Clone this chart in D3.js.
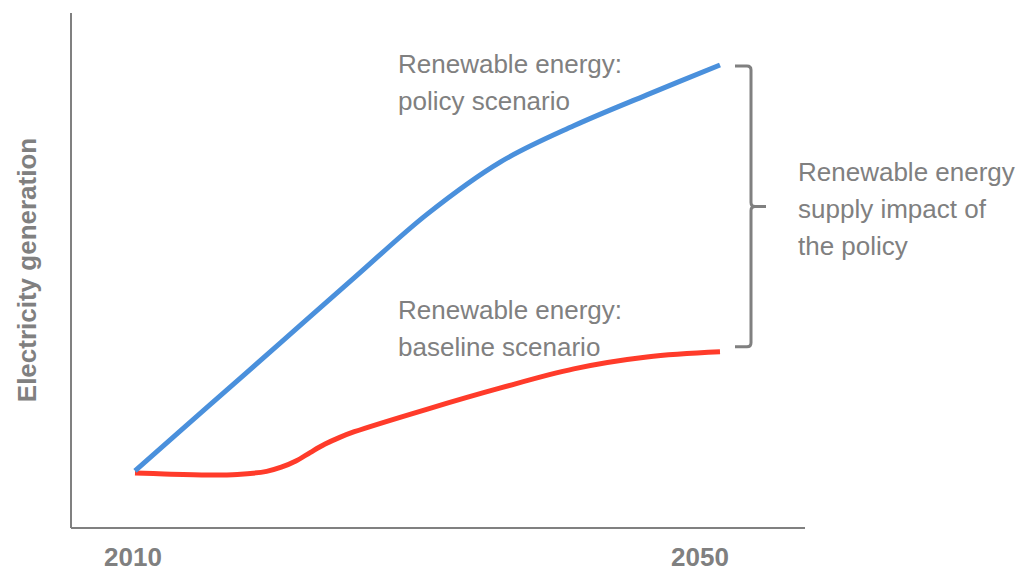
<!DOCTYPE html>
<html>
<head>
<meta charset="utf-8">
<script src="https://cdn.jsdelivr.net/npm/d3@7"></script>
<style>
  body { margin: 0; background: #fff; }
  text { font-family: "Liberation Sans", Arial, sans-serif; }
</style>
</head>
<body>
<div id="chart"></div>
<script>
// data (index units)
const policyYears = [2010, 2015, 2020, 2025, 2030, 2035, 2040, 2045, 2050];
const policyValues = [11.1, 23.6, 36.1, 48.6, 61.0, 71.1, 78.1, 84.1, 89.9];

const baselineYears = [2010, 2012, 2015, 2017, 2019, 2020, 2021, 2022, 2023, 2024, 2025, 2030, 2035, 2040, 2045, 2050];
const baselineValues = [10.7, 10.5, 10.3, 10.4, 11.0, 11.8, 13.0, 14.7, 16.3, 17.6, 18.7, 23.1, 27.2, 30.9, 33.2, 34.2];

const tickYears = [2010, 2050];

const width = 1021;
const height = 573;
const grey = "#808080";
const blue = "#4a90dc";
const red = "#ff3b2a";

const svg = d3.select('#chart').append('svg')
  .attr('width', width)
  .attr('height', height);

const x = d3.scaleLinear()
  .domain([2010, 2050])
  .range([135, 720]);

const y = d3.scaleLinear()
  .domain([0, 100])
  .range([528, 13]);

// axes frame
svg.append('line')
  .attr('x1', 71).attr('x2', 71)
  .attr('y1', 13).attr('y2', 528)
  .attr('stroke', grey).attr('stroke-width', 2);

svg.append('line')
  .attr('x1', 71).attr('x2', 805)
  .attr('y1', 528).attr('y2', 528)
  .attr('stroke', grey).attr('stroke-width', 2);

// year labels
svg.selectAll('.year')
  .data(tickYears)
  .enter().append('text')
  .attr('class', 'year')
  .attr('x', d => x(d))
  .attr('dx', (d, i) => i === 0 ? -2 : -20)
  .attr('y', 566)
  .attr('text-anchor', 'middle')
  .attr('fill', grey)
  .style('font-size', '26px')
  .style('font-weight', 'bold')
  .text(d => d);

svg.append('text')
  .attr('transform', 'translate(36,270) rotate(-90)')
  .attr('text-anchor', 'middle')
  .attr('fill', grey)
  .style('font-size', '26px')
  .style('font-weight', 'bold')
  .text('Electricity generation');

const line = d3.line()
  .x(d => x(d[0]))
  .y(d => y(d[1]))
  .curve(d3.curveCatmullRom.alpha(0.5));

const policy = policyYears.map((d, i) => [d, policyValues[i]]);
const baseline = baselineYears.map((d, i) => [d, baselineValues[i]]);

svg.append('path')
  .datum(baseline)
  .attr('d', line)
  .attr('fill', 'none')
  .attr('stroke', red)
  .attr('stroke-width', 5);

svg.append('path')
  .datum(policy)
  .attr('d', line)
  .attr('fill', 'none')
  .attr('stroke', blue)
  .attr('stroke-width', 5);

// bracket between the two 2050 values
const bTop = y(policyValues[policyValues.length - 1]) + 1;
const bBottom = y(baselineValues[baselineValues.length - 1]) - 5;
const bMid = (bTop + bBottom) / 2;
const bx = 751;
const r = 4;
svg.append('path')
  .attr('d', `M735,${bTop} H${bx - r} Q${bx},${bTop} ${bx},${bTop + r} V${bMid - r} Q${bx},${bMid} ${bx + r},${bMid} H766 M${bx + r},${bMid} Q${bx},${bMid} ${bx},${bMid + r} V${bBottom - r} Q${bx},${bBottom} ${bx - r},${bBottom} H735`)
  .attr('fill', 'none')
  .attr('stroke', grey)
  .attr('stroke-width', 3);

// annotations
const notes = [
  { x: 398, y: 73, lines: ['Renewable energy:', 'policy scenario'] },
  { x: 398, y: 319, lines: ['Renewable energy:', 'baseline scenario'] },
  { x: 798, y: 181, lines: ['Renewable energy', 'supply impact of', 'the policy'] }
];

notes.forEach(n => {
  const t = svg.append('text')
    .attr('fill', grey)
    .style('font-size', '26px');
  n.lines.forEach((l, i) => {
    t.append('tspan')
      .attr('x', n.x)
      .attr('y', n.y + i * 37)
      .text(l);
  });
});
</script>
</body>
</html>
